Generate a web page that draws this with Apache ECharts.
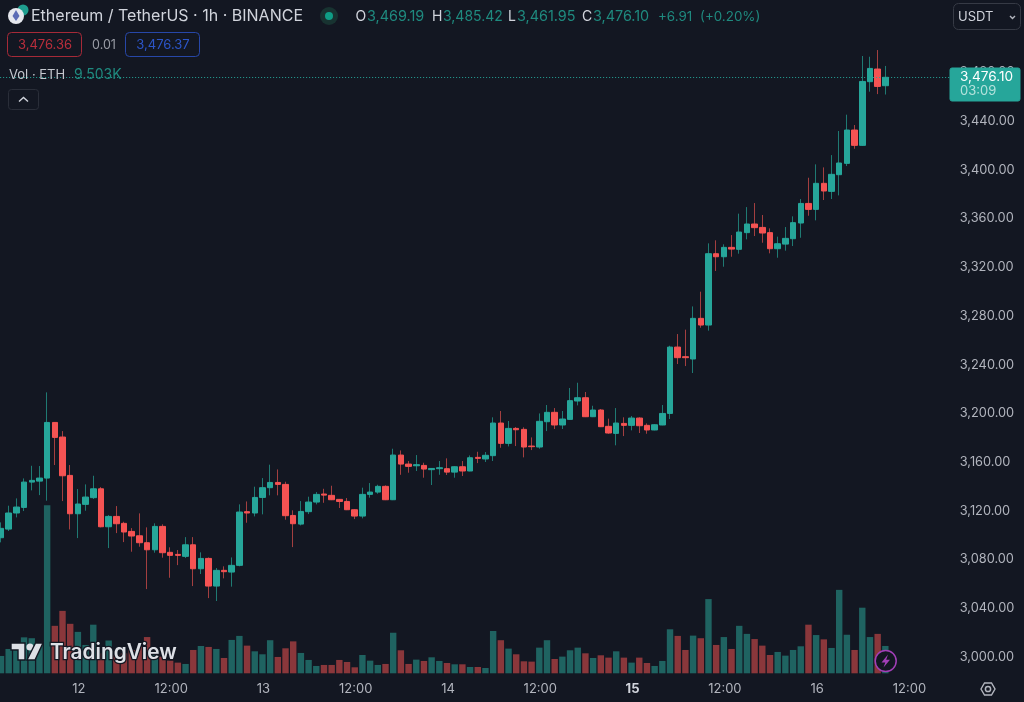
<!DOCTYPE html>
<html>
<head>
<meta charset="utf-8">
<title>ETHUSDT 1h</title>
<style>
    html,body{margin:0;padding:0;background:#131722;}
    #chart{width:1024px;height:702px;}
</style>
</head>
<body>
<div id="chart"></div>
<script src="https://cdn.jsdelivr.net/npm/echarts@6/dist/echarts.min.js"></script>
<script>
// values, one entry per hourly candle
var opens = [3097.9,3105.0,3118.2,3122.8,3143.6,3144.4,3146.9,3192.6,3180.6,3149.1,3117.6,3125.3,3130.8,3138.1,3106.9,3115.4,
    3109.7,3103.1,3099.5,3093.8,3088.0,3107.2,3085.9,3084.2,3082.6,3092.1,3072.4,3080.9,3058.2,3071.1,3069.7,3075.2,
    3119.3,3118.2,3131.0,3139.0,3143.3,3141.7,3116.2,3109.1,3119.3,3127.2,3133.8,3132.7,3129.4,3127.7,3120.9,3115.7,
    3133.5,3135.4,3140.1,3129.1,3165.8,3158.4,3157.0,3157.3,3153.8,3154.6,3154.6,3151.8,3156.2,3152.7,3163.9,3162.6,
    3165.3,3192.1,3175.4,3187.7,3186.9,3173.2,3172.4,3193.2,3200.9,3190.5,3195.1,3210.2,3212.9,3197.3,3202.8,3189.4,
    3183.6,3191.8,3190.2,3196.2,3190.2,3186.4,3190.5,3200.0,3254.5,3246.6,3244.7,3278.1,3272.6,3331.2,3328.7,3336.4,
    3334.8,3348.5,3355.6,3352.8,3348.5,3335.3,3339.1,3343.5,3356.4,3372.5,3367.6,3389.0,3382.4,3396.1,3405.4,3432.8,
    3420.2,3472.5,3482.9,3469.19];
var closes = [3105.6,3118.2,3123.1,3143.6,3145.0,3146.9,3192.6,3180.3,3148.8,3117.6,3125.6,3131.3,3138.1,3106.9,3115.4,3109.4,
    3102.6,3099.3,3093.8,3088.0,3107.2,3085.6,3083.4,3083.4,3092.1,3072.4,3080.9,3058.2,3071.1,3070.0,3075.2,3119.0,
    3118.2,3131.0,3139.0,3143.3,3141.7,3116.0,3109.4,3119.5,3127.2,3133.5,3132.9,3129.1,3127.7,3120.9,3115.7,3133.5,
    3135.4,3140.1,3129.1,3165.8,3158.4,3156.5,3157.9,3154.3,3154.8,3155.4,3151.8,3156.2,3152.7,3163.6,3163.1,3165.6,
    3192.1,3175.4,3187.7,3186.6,3172.4,3172.7,3193.5,3200.9,3190.5,3195.4,3210.5,3212.9,3197.3,3202.8,3189.1,3183.9,
    3192.1,3190.2,3196.2,3189.9,3186.4,3190.7,3200.0,3254.5,3245.8,3245.8,3278.1,3272.6,3331.2,3328.7,3336.4,3335.0,
    3349.0,3355.6,3352.6,3348.2,3335.3,3339.4,3343.8,3356.7,3372.5,3367.6,3389.0,3382.7,3396.4,3405.7,3432.8,3420.2,
    3472.7,3483.4,3468.6,3476.10];
var lows = [3094.1,3103.4,3114.6,3119.8,3136.8,3132.9,3128.3,3157.6,3128.0,3104.7,3097.6,3120.1,3129.7,3106.4,3089.4,3101.7,
    3094.3,3086.4,3090.5,3055.7,3085.6,3081.5,3065.0,3075.4,3081.2,3058.2,3068.1,3048.3,3045.9,3064.5,3057.7,3074.4,
    3110.2,3115.4,3117.1,3132.7,3132.7,3112.7,3090.2,3108.0,3117.3,3125.3,3126.6,3128.8,3122.3,3120.6,3113.2,3113.8,
    3130.8,3134.0,3128.8,3128.8,3149.6,3151.3,3152.7,3147.2,3141.2,3149.6,3149.4,3147.2,3148.6,3152.5,3159.2,3160.1,
    3160.9,3171.8,3172.9,3173.2,3163.9,3169.9,3171.0,3185.5,3187.2,3187.2,3194.9,3206.6,3197.0,3197.0,3188.8,3183.3,
    3173.8,3181.4,3186.1,3183.9,3183.3,3186.1,3190.3,3195.4,3240.6,3238.9,3233.2,3270.4,3268.0,3317.0,3320.5,3328.7,
    3331.2,3343.0,3345.7,3340.2,3331.5,3327.9,3333.7,3337.5,3344.3,3362.4,3358.6,3375.3,3376.1,3379.1,3403.2,3417.4,
    3419.9,3464.3,3462.3,3461.95];
var highs = [3110.5,3124.2,3130.2,3146.6,3157.0,3156.8,3217.3,3192.8,3185.5,3157.6,3137.9,3141.7,3148.8,3139.5,3116.5,3123.9,
    3111.0,3105.8,3117.9,3106.4,3109.7,3108.9,3090.0,3087.8,3098.4,3098.4,3085.9,3081.7,3073.0,3074.4,3081.7,3125.3,
    3127.7,3139.8,3146.9,3157.9,3154.0,3143.9,3120.4,3128.0,3131.6,3135.4,3138.1,3140.6,3129.7,3130.5,3121.2,3139.0,
    3142.8,3141.4,3140.9,3171.0,3169.6,3160.9,3165.8,3159.5,3154.9,3160.9,3163.1,3156.5,3160.9,3165.5,3168.5,3168.3,
    3196.8,3202.0,3193.8,3188.8,3188.6,3180.3,3200.0,3206.9,3204.4,3202.0,3220.9,3225.2,3217.6,3206.3,3203.6,3195.7,
    3204.4,3196.8,3197.9,3196.8,3191.8,3191.0,3206.9,3255.6,3265.2,3268.8,3287.9,3300.0,3339.7,3342.2,3338.9,3346.5,
    3364.1,3369.5,3372.8,3363.0,3352.0,3345.2,3353.1,3361.9,3376.1,3393.6,3404.6,3402.1,3412.2,3432.0,3445.4,3436.9,
    3493.6,3493.0,3498.5,3485.42];
var volumes = [6.03,8.46,8.11,12.5,12.2,10.4,58.4,16.5,21.7,17.2,14.4,9.85,16.9,6.95,11.4,6.37,
    6.95,8.11,9.27,12.6,6.95,5.8,4.4,3.71,3.25,8.11,9.5,9.16,8.46,5.33,11.6,13.0,
    9.62,7.65,6.61,11.5,5.68,8.69,11.1,7.07,4.64,2.55,2.9,2.9,4.64,3.94,2.09,6.37,
    4.4,2.9,3.25,14.1,8.0,3.25,4.75,4.29,5.56,4.29,3.59,3.13,3.13,2.2,2.2,1.85,
    14.7,11.5,8.58,6.61,4.17,4.06,8.92,11.5,4.98,5.8,8.0,8.92,6.95,5.33,6.26,5.45,
    7.65,5.45,3.71,5.45,3.59,2.55,4.29,15.3,13.0,8.11,13.1,12.2,25.8,9.85,12.6,8.46,
    16.5,13.7,11.9,9.62,6.37,7.42,6.14,8.11,9.39,16.9,13.3,11.8,8.81,29.0,13.4,8.11,
    22.8,12.6,13.7,9.503];

var tickIndex = [10,22,34,46,58,70,82,94,106,118];
var tickLabels = ['12','12:00','13','12:00','14','12:00','15','12:00','16','12:00'];
var lastPrice = 3476.10;

var UP = '#26a69a', DOWN = '#f55353';
var UP_WICK = '#1f7a73', DOWN_WICK = '#a33f40';
var UP_VOL = '#1f6361', DOWN_VOL = '#8a373b';
var FONT = 'Inter, "Noto Sans", sans-serif';

// 124 hourly slots, the last ones empty (room on the right of the last candle)
var categories = [];
for (var i = 0; i < 124; i++) { categories.push(''); }
tickIndex.forEach(function (idx, n) { categories[idx] = tickLabels[n]; });

var wickData = opens.map(function (o, i) { return [o, closes[i], lows[i], highs[i]]; });
var bodyData = opens.map(function (o, i) {
    return [o, closes[i], Math.min(o, closes[i]), Math.max(o, closes[i])];
});

/** small helpers for the page furniture around the chart */
function txt(text, x, y, fill, size, extra) {
    var style = {text: text, x: x, y: y, fill: fill, font: (extra && extra.weight || 400) + ' ' + size + 'px ' + FONT,
        verticalAlign: 'middle', align: extra && extra.align || 'left'};
    if (extra && extra.stroke) { style.stroke = extra.stroke; style.lineWidth = extra.lineWidth; }
    return {type: 'text', z: 100, style: style};
}
function box(x, y, w, h, r, stroke, fill) {
    return {type: 'rect', z: 99, shape: {x: x, y: y, width: w, height: h, r: r},
        style: {stroke: stroke, fill: fill || 'transparent', lineWidth: 1}};
}
function poly(points, fill, stroke) {
    return {type: 'polygon', z: 100, shape: {points: points},
        style: {fill: fill || 'transparent', stroke: stroke || 'transparent', lineWidth: 1.4}};
}
function line(points, stroke) {
    return {type: 'polyline', z: 100, shape: {points: points},
        style: {fill: 'transparent', stroke: stroke, lineWidth: 1.4}};
}
function dot(cx, cy, r, fill, stroke) {
    return {type: 'circle', z: 100, shape: {cx: cx, cy: cy, r: r},
        style: {fill: fill, stroke: stroke || 'transparent', lineWidth: 1.5}};
}

var TEAL_TXT = '#1f8a7f', LABEL = '#b2b5be';
var furniture = [
    // symbol icons and title
    dot(23, 10, 5.5, '#1f9e8f'), dot(16, 16, 8, '#e6e8ee'),
    poly([[16,10],[19.5,16],[16,21],[12.5,16]], '#5b6bb5'),
    txt('Ethereum / TetherUS · 1h · BINANCE', 31, 16, '#d1d4dc', 16),
    dot(329, 16, 9, '#183331'), dot(329, 16, 4, '#0f9d85'),
    // OHLC row
    txt('O', 355.5, 16.5, '#d1d4dc', 14), txt('3,469.19', 367, 16.5, TEAL_TXT, 14.4),
    txt('H', 432, 16.5, '#d1d4dc', 14), txt('3,485.42', 443, 16.5, TEAL_TXT, 14),
    txt('L', 508, 16.5, '#d1d4dc', 14), txt('3,461.95', 517, 16.5, TEAL_TXT, 14.4),
    txt('C', 582, 16.5, '#d1d4dc', 14), txt('3,476.10', 593, 16.5, TEAL_TXT, 14.4),
    txt('+6.91', 658, 16.5, TEAL_TXT, 13.4), txt('(+0.20%)', 700, 16.5, TEAL_TXT, 13.4),
    // sell / buy boxes
    box(7.5, 32.5, 74, 24, 4, '#a62a38'), txt('3,476.36', 45, 45, '#b92e3c', 13, {align: 'center'}),
    txt('0.01', 104, 45, '#9a9da6', 12.5, {align: 'center'}),
    box(125.5, 32.5, 74, 24, 4, '#2747a8'), txt('3,476.37', 163, 45, '#2c55c8', 13, {align: 'center'}),
    // volume legend
    txt('Vol · ETH', 9, 75, '#c4c7ce', 13), txt('9.503K', 74, 75, TEAL_TXT, 14),
    box(8.5, 89.5, 30, 20, 3, '#2a2e39'), line([[19,101.5],[23.5,97.5],[28,101.5]], '#d1d4dc'),
    // currency selector
    box(953.5, 3.5, 67, 26, 5, '#363a45'), txt('USDT', 958, 17, '#d1d4dc', 13),
    line([[1010,16],[1012.5,18.5],[1015,16]], '#b2b5be'),
    // last price tag
    box(950, 68, 70, 33, 2, UP, UP),
    txt('3,476.10', 960, 76.5, '#ffffff', 13.6), txt('03:09', 960, 91, '#b5e2dc', 13),
    // TradingView watermark
    poly([[11,643],[25,643],[25,660],[18,660],[18,650],[11,650]], '#dde0e6', '#131722'),
    dot(30, 647, 3.6, '#dde0e6'),
    poly([[35.5,643],[43,643],[35,660],[27,660]], '#dde0e6', '#131722'),
    txt('TradingView', 50, 652.5, '#dde0e6', 20.8, {weight: 600, stroke: '#131722', lineWidth: 2.5}),
    // lightning badge
    dot(885.7, 661, 10.5, '#131722', '#a23fb8'),
    poly([[888,654.5],[881.5,662.5],[885.3,662.5],[883.5,667.5],[890,659.8],[886.2,659.8]], '#a23fb8'),
    // settings hexagon
    poly([[981,689],[984.5,683],[991.5,683],[995,689],[991.5,695],[984.5,695]], null, LABEL),
    dot(988, 689, 2.6, 'transparent', LABEL)
];

var chart = echarts.init(document.getElementById('chart'));
chart.setOption({
    backgroundColor: '#131722',
    animation: false,
    textStyle: {fontFamily: FONT},
    grid: [
        {left: -2.85, width: 953.56, top: 0, height: 705.6, outerBoundsMode: 'none'},
        {left: -2.85, width: 953.56, top: 505, height: 168.3, outerBoundsMode: 'none'}
    ],
    xAxis: [
        {type: 'category', gridIndex: 0, data: categories, show: false},
        {
            type: 'category', gridIndex: 1, data: categories,
            axisLine: {show: false}, axisTick: {show: false}, splitLine: {show: false},
            axisLabel: {
                interval: function (i, v) { return v !== ''; },
                color: LABEL, fontSize: 13, fontFamily: FONT, margin: 9, hideOverlap: false,
                padding: [0, 0, 0, 2],
                formatter: function (v) { return v === '15' ? '{b|15}' : v; },
                rich: {b: {fontWeight: 700, color: '#d1d4dc', fontSize: 13, fontFamily: FONT}}
            }
        }
    ],
    yAxis: [
        {
            type: 'value', gridIndex: 0, position: 'right', scale: true,
            min: 2960, max: 3539.6, interval: 40,
            axisLine: {show: false}, axisTick: {show: false}, splitLine: {show: false},
            axisLabel: {
                color: LABEL, fontSize: 12.8, fontFamily: FONT, margin: 9, padding: [0, 0, 2, 0],
                showMinLabel: true, showMaxLabel: true,
                formatter: function (v) {
                    if (v < 3000 || v > 3480) { return ''; }
                    return v.toLocaleString('en-US', {minimumFractionDigits: 2, maximumFractionDigits: 2});
                }
            }
        },
        {type: 'value', gridIndex: 1, min: 0, max: 58.5, show: false}
    ],
    series: [
        {
            name: 'Vol', type: 'bar', xAxisIndex: 1, yAxisIndex: 1, barWidth: 6.4,
            data: volumes, z: 1,
            itemStyle: {
                color: function (p) { return closes[p.dataIndex] >= opens[p.dataIndex] ? UP_VOL : DOWN_VOL; }
            }
        },
        {
            name: 'Wick', type: 'candlestick', xAxisIndex: 0, yAxisIndex: 0, barWidth: 1,
            data: wickData, z: 2, silent: true,
            itemStyle: {color: UP_WICK, color0: DOWN_WICK, borderColor: UP_WICK, borderColor0: DOWN_WICK, borderWidth: 1},
            markLine: {
                silent: true, symbol: 'none', label: {show: false}, emphasis: {disabled: true},
                lineStyle: {type: [1, 2], color: UP, width: 1, opacity: 1},
                itemStyle: {color: UP},
                data: [{yAxis: lastPrice, lineStyle: {color: UP, type: [1, 2], width: 1}}]
            }
        },
        {
            name: 'ETHUSDT', type: 'candlestick', xAxisIndex: 0, yAxisIndex: 0, barWidth: 6,
            data: bodyData, z: 3,
            itemStyle: {color: UP, color0: DOWN, borderColor: UP, borderColor0: DOWN, borderWidth: 1}
        }
    ],
    graphic: {elements: furniture}
});
</script>
</body>
</html>
